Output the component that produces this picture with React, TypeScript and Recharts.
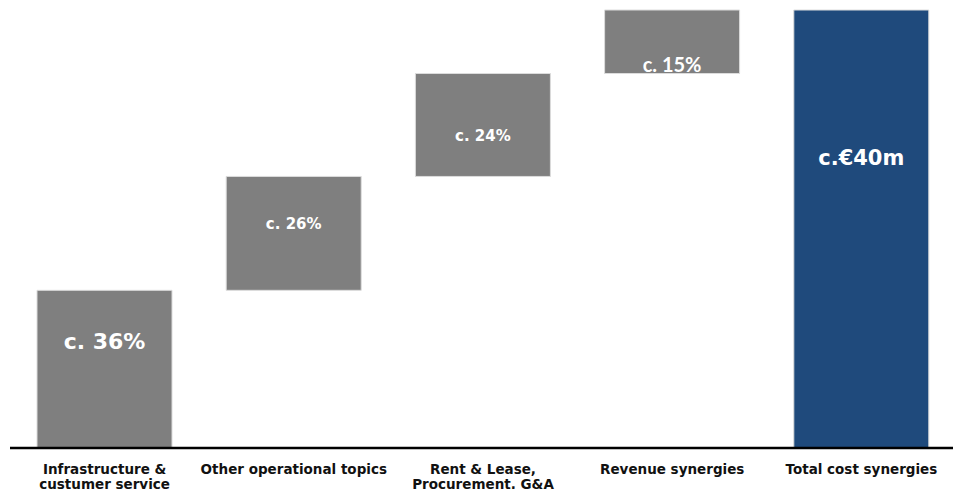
import { BarChart, Bar, XAxis, YAxis, Cell, LabelList } from 'recharts'

// waterfall: invisible base + visible step (in % of total synergies)
const categories = [
    'Infrastructure &\ncustumer service',
    'Other operational topics',
    'Rent & Lease,\nProcurement, G&A',
    'Revenue synergies',
    'Total cost synergies',
]
const bases = [0, 36, 62, 85.5, 0]
const steps = [36, 26, 23.5, 14.5, 100]
const labels = ['c. 36%', 'c. 26%', 'c. 24%', 'c. 15%', 'c.€40m']

const GRAY = '#7f7f7f'
const NAVY = '#1f4a7c'
const barColors = [GRAY, GRAY, GRAY, GRAY, NAVY]

// label look per bar (offset from bar top, font)
const labelLook = [
    { dy: 51, size: 22, font: 'DejaVu Sans' },
    { dy: 48, size: 15, font: 'DejaVu Sans' },
    { dy: 62, size: 15, font: 'DejaVu Sans' },
    { dy: 54, size: 20, font: 'Lato' },
    { dy: 148, size: 21, font: 'DejaVu Sans' },
]

const data = categories.map((name, i) => ({
    name,
    base: bases[i],
    step: steps[i],
    label: labels[i],
}))

function CategoryTick(props: any) {
    const { x, y, payload } = props
    const lines = String(payload.value).split('\n')
    return (
        <text
            x={x}
            y={y}
            textAnchor="middle"
            fill="#111"
            fontFamily="DejaVu Sans"
            fontWeight="bold"
            fontSize={13.5}
        >
            {lines.map((line, i) => (
                <tspan key={i} x={x} dy={i === 0 ? 18 : 15}>
                    {line}
                </tspan>
            ))}
        </text>
    )
}

function StepLabel(props: any) {
    const { x, y, width, index, value } = props
    const look = labelLook[index]
    return (
        <text
            x={x + width / 2}
            y={y + look.dy}
            textAnchor="middle"
            dominantBaseline="central"
            fill="#fff"
            fontFamily={look.font}
            fontWeight="bold"
            fontSize={look.size}
        >
            {value}
        </text>
    )
}

export default function App() {
    return (
        <div
            style={{
                position: 'absolute',
                left: 0,
                top: 0,
                width: 953,
                height: 489,
                overflow: 'hidden',
                background: '#fff',
            }}
        >
            <BarChart
                width={956}
                height={489}
                data={data}
                margin={{ top: 10, right: 0, left: 10, bottom: 0 }}
                barSize={135}
            >
                <YAxis hide domain={[0, 100]} />
                <XAxis
                    dataKey="name"
                    height={41}
                    interval={0}
                    tickLine={false}
                    axisLine={{ stroke: '#000', strokeWidth: 2.5 }}
                    tick={<CategoryTick />}
                />
                <Bar dataKey="base" stackId="w" fill="transparent" isAnimationActive={false} />
                <Bar dataKey="step" stackId="w" stroke="#dcdcdc" strokeWidth={1} isAnimationActive={false}>
                    {data.map((_, i) => (
                        <Cell key={i} fill={barColors[i]} />
                    ))}
                    <LabelList dataKey="label" content={<StepLabel />} />
                </Bar>
            </BarChart>
        </div>
    )
}
